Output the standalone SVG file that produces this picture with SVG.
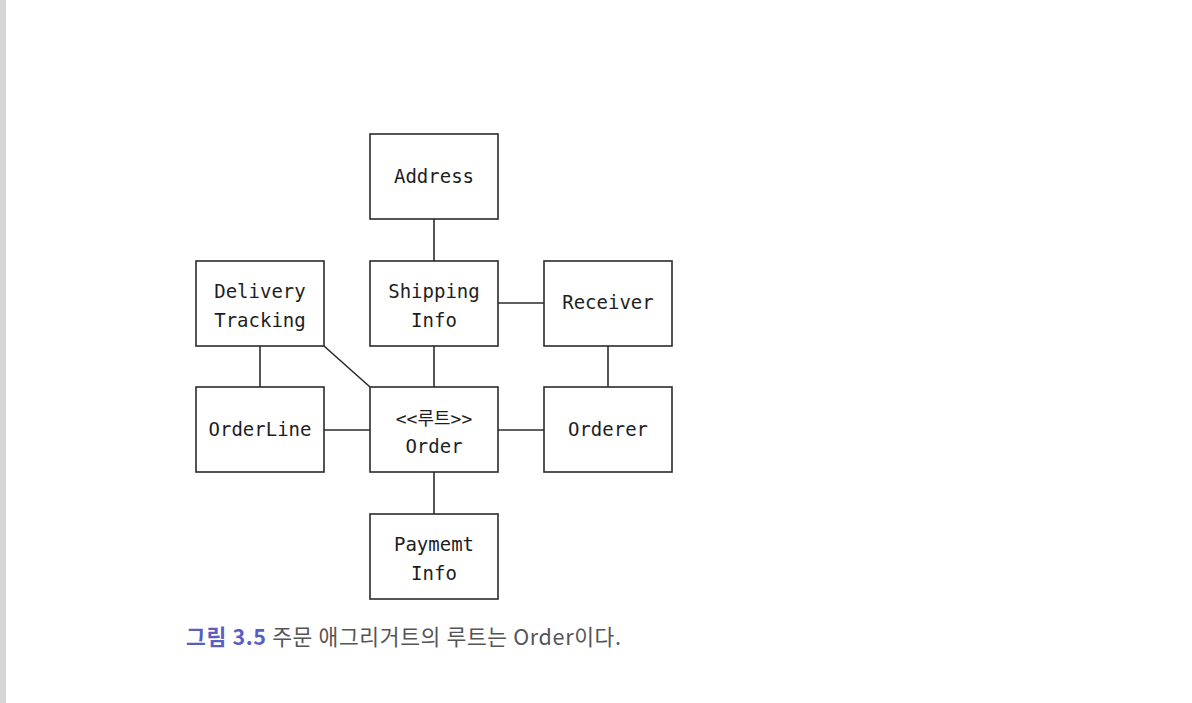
<svg xmlns="http://www.w3.org/2000/svg" width="1192" height="703" viewBox="0 0 1192 703">
<style>
.box{fill:#fff;stroke:#2b2b2b;stroke-width:1.6}
.ln{stroke:#2b2b2b;stroke-width:1.6;fill:none}
.t{font-family:"DejaVu Sans Mono","Liberation Mono","Noto Sans CJK KR",monospace;font-size:19px;fill:#1e1e1e;text-anchor:middle}
.cap{font-family:"Noto Sans CJK KR","Noto Sans",sans-serif;font-size:21.5px;fill:#555}
</style>
<rect x="0" y="0" width="1192" height="703" fill="#fff"/>
<rect x="0" y="0" width="6" height="703" fill="#d6d6d6"/>
<g id="connectors">
<line class="ln" x1="434" y1="219" x2="434" y2="261"/>
<line class="ln" x1="498" y1="303" x2="544" y2="303"/>
<line class="ln" x1="434" y1="346" x2="434" y2="387"/>
<line class="ln" x1="608" y1="346" x2="608" y2="387"/>
<line class="ln" x1="260" y1="346" x2="260" y2="387"/>
<line class="ln" x1="324" y1="346" x2="370" y2="387"/>
<line class="ln" x1="324" y1="430" x2="370" y2="430"/>
<line class="ln" x1="498" y1="430" x2="544" y2="430"/>
<line class="ln" x1="434" y1="472" x2="434" y2="514"/>
</g>
<g id="address"><rect class="box" x="370" y="134" width="128" height="85"/><text class="t" x="434" y="183">Address</text></g>
<g id="delivery-tracking"><rect class="box" x="196" y="261" width="128" height="85"/><text class="t" x="260" y="298">Delivery</text><text class="t" x="260" y="327">Tracking</text></g>
<g id="shipping-info"><rect class="box" x="370" y="261" width="128" height="85"/><text class="t" x="434" y="298">Shipping</text><text class="t" x="434" y="327">Info</text></g>
<g id="receiver"><rect class="box" x="544" y="261" width="128" height="85"/><text class="t" x="608" y="309">Receiver</text></g>
<g id="orderline"><rect class="box" x="196" y="387" width="128" height="85"/><text class="t" x="260" y="436">OrderLine</text></g>
<g id="order"><rect class="box" x="370" y="387" width="128" height="85"/><text class="t" x="434" y="425" style="font-size:18px">&lt;&lt;루트&gt;&gt;</text><text class="t" x="434" y="453">Order</text></g>
<g id="orderer"><rect class="box" x="544" y="387" width="128" height="85"/><text class="t" x="608" y="436">Orderer</text></g>
<g id="payment-info"><rect class="box" x="370" y="514" width="128" height="85"/><text class="t" x="434" y="551">Paymemt</text><text class="t" x="434" y="580">Info</text></g>
<text class="cap" x="186" y="645" textLength="435" lengthAdjust="spacing"><tspan fill="#5a5ec2" font-weight="bold">그림 3.5</tspan> 주문 애그리거트의 루트는 Order이다.</text>
</svg>
